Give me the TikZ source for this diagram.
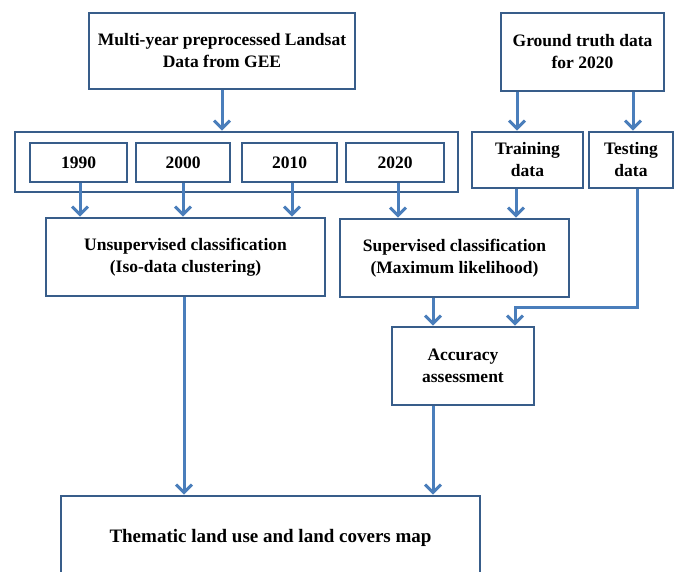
\documentclass[tikz,border=0pt]{standalone}
\usepackage{fontspec}
\setmainfont{Liberation Serif}
\usetikzlibrary{arrows.meta,calc}
\definecolor{boxblue}{RGB}{56,93,138}
\definecolor{arrblue}{RGB}{74,126,187}
\begin{document}
\begin{tikzpicture}[x=1pt,y=-1pt,
  box/.style={draw=boxblue,line width=2.6pt,fill=white,inner sep=0pt,align=center,
    font=\bfseries\fontsize{17.5}{22}\selectfont},
  arr/.style={draw=arrblue,line width=3pt,-{Straight Barb[length=8pt,width=16pt]}},
  ln/.style={draw=arrblue,line width=3pt}]
\useasboundingbox (0,0) rectangle (675,572);
% nodes
\node[box,minimum width=266pt,minimum height=76pt] (top) at (222,51) {Multi-year preprocessed Landsat\\Data from GEE};
\node[box,minimum width=163pt,minimum height=78pt] (ground) at (582.5,52) {Ground truth data\\for 2020};
\node[box,minimum width=443pt,minimum height=60pt] (cont) at (236.5,162) {};
\node[box,minimum width=97pt,minimum height=39pt] (y1) at (78.5,162.5) {1990};
\node[box,minimum width=94pt,minimum height=39pt] (y2) at (183,162.5) {2000};
\node[box,minimum width=95pt,minimum height=39pt] (y3) at (289.5,162.5) {2010};
\node[box,minimum width=98pt,minimum height=39pt] (y4) at (395,162.5) {2020};
\node[box,minimum width=111pt,minimum height=56pt] (train) at (527.5,160) {Training\\data};
\node[box,minimum width=84pt,minimum height=56pt] (test) at (631,160) {Testing\\data};
\node[box,minimum width=279pt,minimum height=78pt] (unsup) at (185.5,257) {Unsupervised classification\\(Iso-data clustering)};
\node[box,minimum width=229pt,minimum height=78pt] (sup) at (454.5,258) {Supervised classification\\(Maximum likelihood)};
\node[box,minimum width=142pt,minimum height=78pt] (acc) at (463,366) {Accuracy\\assessment};
\node[box,minimum width=419pt,minimum height=84pt,font=\bfseries\fontsize{19}{22}\selectfont] (them) at (270.5,538) {Thematic land use and land covers map};
% helper coordinates
\coordinate (c1) at ($(y1.south)+(1.5,0)$);
\coordinate (c3) at ($(y3.south)+(2.5,0)$);
\coordinate (c4) at ($(y4.south)+(3,0)$);
\coordinate (tr) at ($(train.north)+(-10.5,0)$);
\coordinate (tro) at ($(train.south)+(-11.5,0)$);
\coordinate (te) at ($(test.north)+(2,0)$);
\coordinate (teo) at ($(test.south)+(6,0)$);
\coordinate (bend) at ($(teo)+(0,118)$);
\coordinate (a1) at ($(acc.north)+(-30,0)$);
\coordinate (a2) at ($(acc.north)+(52,0)$);
\coordinate (ao) at ($(acc.south)+(-30,0)$);
\coordinate (uo) at ($(unsup.south)+(-1.5,0)$);
% connectors
\draw[arr] (top.south) -- (top.south |- cont.north);
\draw[arr] (ground.south -| tr) -- (tr);
\draw[arr] (ground.south -| te) -- (te);
\draw[arr] (c1) -- (c1 |- unsup.north);
\draw[arr] (y2.south) -- (y2.south |- unsup.north);
\draw[arr] (c3) -- (c3 |- unsup.north);
\draw[arr] (c4) -- (c4 |- sup.north);
\draw[arr] (tro) -- (tro |- sup.north);
\draw[arr] (a1 |- sup.south) -- (a1);
\draw[arr] (teo) -- (bend) -- (bend -| a2) -- (a2);
\draw[arr] (uo) -- (uo |- them.north);
\draw[arr] (ao) -- (ao |- them.north);
\end{tikzpicture}
\end{document}
